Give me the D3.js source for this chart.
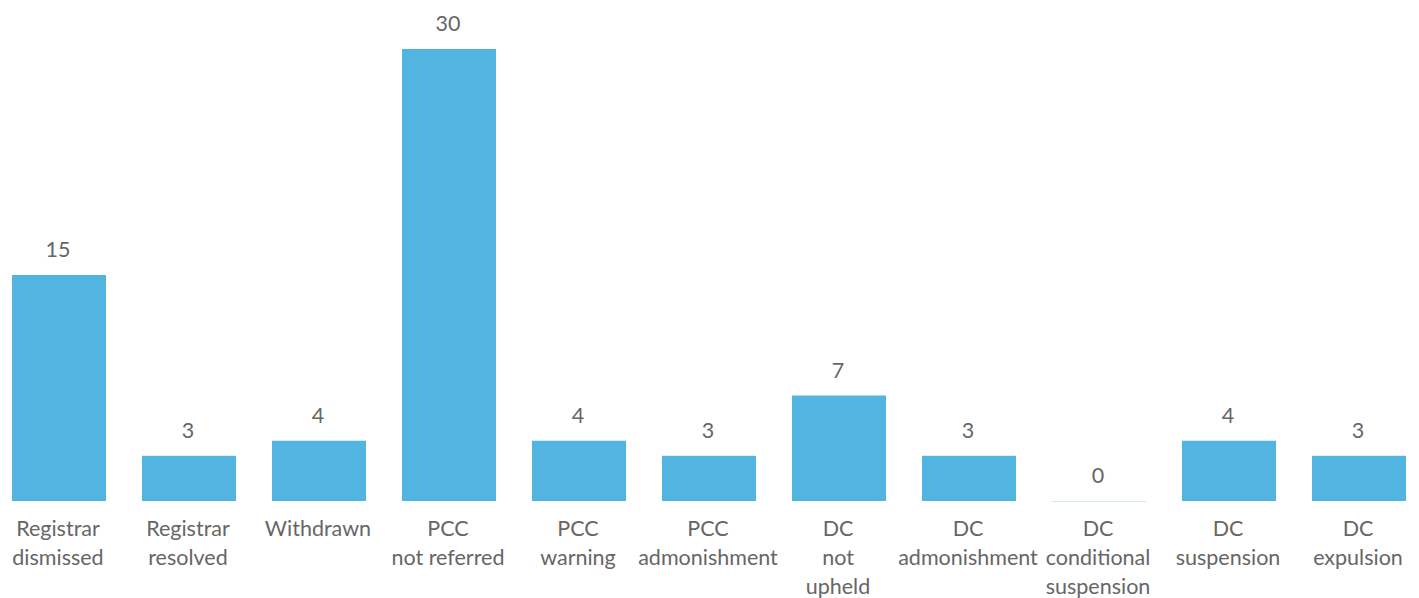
<!DOCTYPE html>
<html><head><meta charset="utf-8">
<script src="https://cdn.jsdelivr.net/npm/d3@7/dist/d3.min.js"></script>
<style>body{margin:0;background:#fff;}svg{display:block;}</style>
</head><body>
<script>
const categories = ["Registrar\ndismissed","Registrar\nresolved","Withdrawn","PCC\nnot referred","PCC\nwarning","PCC\nadmonishment","DC\nnot\nupheld","DC\nadmonishment","DC\nconditional\nsuspension","DC\nsuspension","DC\nexpulsion"];
const values = [15,3,4,30,4,3,7,3,0,4,3];

const W = 1419, H = 598;
const svg = d3.select("body").append("svg").attr("width", W).attr("height", H);
const x = d3.scaleBand().domain(d3.range(categories.length)).range([12, 1406]).paddingInner(0.277).paddingOuter(0);
const y = d3.scaleLinear().domain([0, 30]).range([501, 49]);
const font = "Lato, 'Open Sans', sans-serif";
const textColor = "#666666";

svg.selectAll("rect.bar").data(values).join("rect").attr("class","bar")
  .attr("x", (d,i)=>x(i)).attr("width", x.bandwidth())
  .attr("y", d=>y(d)).attr("height", d=>y(0)-y(d))
  .attr("fill", "#52b4e1");

svg.selectAll("line.zero").data(values.map((v,i)=>({v,i})).filter(d=>d.v===0)).join("line")
  .attr("class","zero")
  .attr("x1", d=>x(d.i)).attr("x2", d=>x(d.i)+x.bandwidth())
  .attr("y1", y(0)+0.5).attr("y2", y(0)+0.5)
  .attr("stroke", "#d3e9f4").attr("stroke-width", 1);

svg.selectAll("text.val").data(values).join("text").attr("class","val")
  .attr("x", (d,i)=>x(i)+x.bandwidth()/2 - 1).attr("y", d=>y(d)-18)
  .attr("text-anchor","middle").attr("font-family", font).attr("font-size", 21.5)
  .attr("fill", textColor).text(d=>d);

const lab = svg.selectAll("text.cat").data(categories).join("text").attr("class","cat")
  .attr("y", 536)
  .attr("text-anchor","middle").attr("font-family", font).attr("font-size", 21.5)
  .attr("fill", textColor);
lab.each(function(d,i){
  const t = d3.select(this);
  d.split("\n").forEach((line,j)=>{
    t.append("tspan").attr("x", x(i)+x.bandwidth()/2 - 1).attr("dy", j===0?0:29).text(line);
  });
});
</script>
</body></html>
